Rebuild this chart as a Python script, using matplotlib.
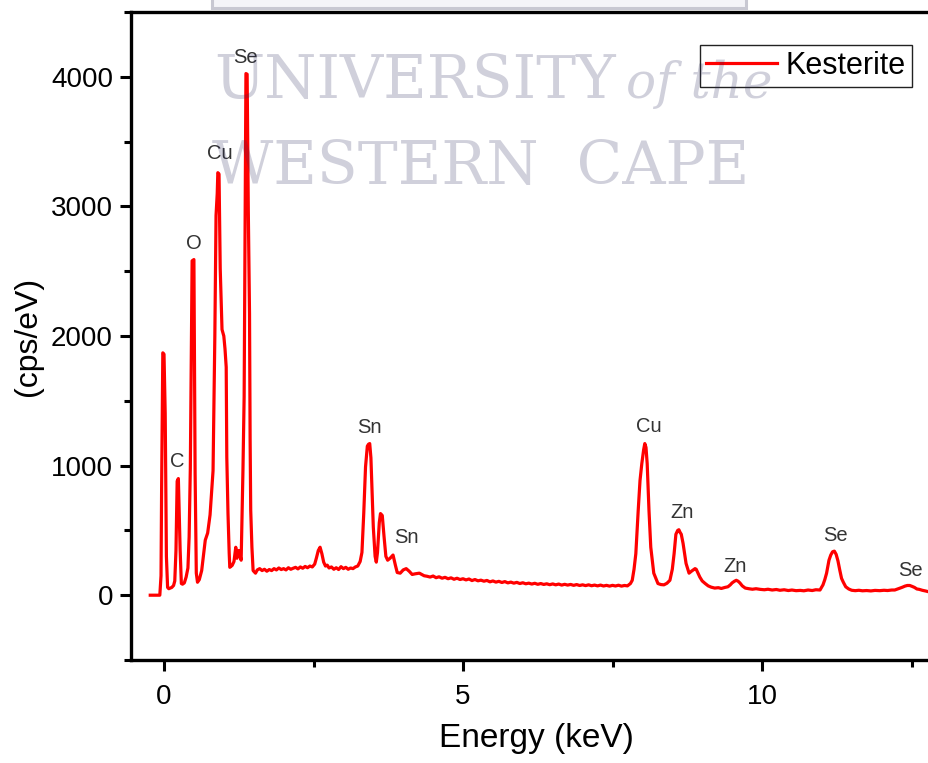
import matplotlib
matplotlib.use("Agg")
import matplotlib.pyplot as plt
from matplotlib.patches import Rectangle
from matplotlib.ticker import MultipleLocator

plt.rcParams['font.family'] = ['Liberation Sans', 'DejaVu Sans']

# EDS spectrum: energy (keV) and intensity (cps/eV)
energy = [
    -0.23, -0.12, -0.07, -0.05, -0.04, -0.02, 0.00, 0.02, 0.04, 0.06,
    0.08, 0.13, 0.16, 0.18, 0.20, 0.22, 0.24, 0.27, 0.29, 0.31,
    0.34, 0.37, 0.40, 0.42, 0.44, 0.47, 0.50, 0.52, 0.54, 0.56,
    0.59, 0.63, 0.69, 0.73, 0.77, 0.82, 0.85, 0.87, 0.89, 0.90,
    0.92, 0.94, 0.97, 1.00, 1.02, 1.04, 1.05, 1.07, 1.09, 1.10,
    1.14, 1.17, 1.20, 1.22, 1.25, 1.29, 1.30, 1.32, 1.34, 1.355,
    1.37, 1.39, 1.41, 1.43, 1.44, 1.45, 1.47, 1.49, 1.53, 1.56,
    1.60, 1.64, 1.68, 1.72, 1.76, 1.80, 1.84, 1.88, 1.92, 1.96,
    2.00, 2.04, 2.08, 2.12, 2.16, 2.20, 2.24, 2.28, 2.32, 2.36,
    2.40, 2.44, 2.48, 2.52, 2.55, 2.58, 2.61, 2.64, 2.67, 2.70,
    2.73, 2.76, 2.80, 2.84, 2.88, 2.92, 2.96, 3.00, 3.04, 3.08,
    3.12, 3.16, 3.20, 3.24, 3.28, 3.31, 3.34, 3.37, 3.40, 3.42,
    3.44, 3.46, 3.48, 3.50, 3.53, 3.55, 3.57, 3.60, 3.62, 3.65,
    3.68, 3.71, 3.74, 3.78, 3.83, 3.87, 3.90, 3.95, 4.00, 4.05,
    4.10, 4.15, 4.20, 4.27, 4.35, 4.40, 4.45, 4.50, 4.55, 4.60,
    4.65, 4.70, 4.75, 4.80, 4.85, 4.90, 4.95, 5.00, 5.05, 5.10,
    5.15, 5.20, 5.25, 5.30, 5.35, 5.40, 5.45, 5.50, 5.55, 5.60,
    5.65, 5.70, 5.75, 5.80, 5.85, 5.90, 5.95, 6.00, 6.05, 6.10,
    6.15, 6.20, 6.25, 6.30, 6.35, 6.40, 6.45, 6.50, 6.55, 6.60,
    6.65, 6.70, 6.75, 6.80, 6.85, 6.90, 6.95, 7.00, 7.05, 7.10,
    7.15, 7.20, 7.25, 7.30, 7.35, 7.40, 7.45, 7.50, 7.55, 7.60,
    7.65, 7.70, 7.75, 7.80, 7.83, 7.86, 7.89, 7.93, 7.96, 7.99,
    8.02, 8.04, 8.06, 8.08, 8.11, 8.14, 8.19, 8.26, 8.31, 8.36,
    8.41, 8.46, 8.50, 8.53, 8.56, 8.59, 8.61, 8.63, 8.65, 8.68,
    8.73, 8.78, 8.82, 8.85, 8.88, 8.90, 8.93, 8.96, 9.00, 9.05,
    9.10, 9.15, 9.21, 9.27, 9.32, 9.38, 9.43, 9.47, 9.50, 9.54,
    9.57, 9.60, 9.63, 9.67, 9.72, 9.78, 9.84, 9.90, 9.97, 10.04,
    10.10, 10.17, 10.24, 10.30, 10.37, 10.44, 10.50, 10.57, 10.64, 10.70,
    10.77, 10.84, 10.90, 10.97, 11.02, 11.05, 11.08, 11.12, 11.15, 11.18,
    11.21, 11.24, 11.27, 11.30, 11.33, 11.36, 11.40, 11.45, 11.50, 11.56,
    11.62, 11.68, 11.75, 11.82, 11.89, 11.97, 12.04, 12.10, 12.17, 12.22,
    12.27, 12.31, 12.35, 12.39, 12.43, 12.47, 12.51, 12.55, 12.59, 12.63,
    12.68, 12.74, 12.80, 12.87, 12.94, 13.00,
]
counts = [
    0, 0, 0, 150, 830, 1870, 1860, 1400, 300, 60,
    50, 60, 75, 110, 345, 880, 900, 345, 90, 85,
    95, 140, 210, 450, 980, 2580, 2590, 940, 170, 100,
    120, 190, 425, 480, 620, 960, 2000, 2930, 3100, 3260,
    3250, 2520, 2050, 2000, 1900, 1760, 1065, 630, 325, 215,
    230, 260, 370, 285, 345, 270, 500, 960, 1530, 2720,
    4025, 4020, 2950, 2170, 1200, 655, 370, 190, 170, 195,
    205, 190, 200, 185, 198, 190, 205, 195, 210, 198,
    205, 195, 212, 200, 208, 215, 203, 218, 208, 222,
    212, 225, 218, 240, 290, 345, 370, 320, 255, 225,
    232, 210, 218, 200, 212, 198, 220, 205, 215, 200,
    210, 205, 218, 225, 260, 330, 630, 990, 1150, 1165,
    1170, 1060, 780, 525, 300, 255, 330, 560, 630, 615,
    450, 300, 270, 285, 310, 230, 175, 170, 195, 205,
    185, 160, 165, 170, 150, 146, 140, 148, 135, 142,
    131, 138, 127, 134, 123, 131, 121, 127, 118, 125,
    113, 121, 111, 116, 108, 114, 103, 110, 101, 107,
    98, 105, 95, 101, 93, 99, 90, 96, 88, 93,
    86, 92, 84, 90, 83, 88, 81, 87, 80, 86,
    78, 84, 78, 83, 76, 82, 75, 80, 74, 80,
    73, 78, 72, 78, 71, 76, 70, 76, 71, 77,
    70, 75, 72, 90, 115, 200, 320, 655, 885, 1015,
    1120, 1170, 1140, 1015, 655, 370, 170, 90, 82, 80,
    92, 115, 200, 320, 470, 500, 505, 485, 470, 400,
    245, 170, 185, 195, 205, 200, 170, 140, 110, 90,
    72, 62, 55, 58, 52, 60, 65, 80, 95, 108,
    115, 108, 95, 72, 55, 50, 46, 50, 45, 42,
    46, 40, 44, 38, 42, 36, 40, 35, 37, 34,
    40, 36, 42, 40, 80, 120, 170, 270, 310, 335,
    340, 315, 265, 195, 130, 100, 65, 48, 38, 35,
    38, 34, 36, 33, 37, 35, 38, 36, 40, 40,
    48, 55, 62, 70, 75, 75, 68, 60, 48, 45,
    38, 32, 25, 26, 24, 24,
]

# peak labels: element, energy position, height of label
peak_names = ["Se", "Cu", "O", "C", "Sn", "Sn", "Cu", "Zn", "Zn", "Se", "Se"]
peak_x = [1.37, 0.94, 0.50, 0.22, 3.44, 4.05, 8.11, 8.66, 9.55, 11.22, 12.49]
peak_y = [4150, 3410, 2715, 1035, 1295, 445, 1300, 640, 225, 460, 190]

W, H = 929, 763
fig = plt.figure(figsize=(W / 100, H / 100), dpi=100)

# axes runs a little past the right edge of the picture (cropped original)
x_left, x_right = -0.552, 13.0
px_left, px_right = 131, 164 + 13.0 * 59.8
ax = fig.add_axes([px_left / W, 103 / H, (px_right - px_left) / W, (660 - 12) / H])

ax.plot(energy, counts, color='#ff0000', lw=2.3, label='Kesterite', zorder=3)

for name, xx, yy in zip(peak_names, peak_x, peak_y):
    ax.text(xx, yy, name, ha='center', va='center', fontsize=14.5, color='#333333')

ax.set_xlim(x_left, x_right)
ax.set_ylim(-500, 4500)
ax.xaxis.set_major_locator(MultipleLocator(5))
ax.xaxis.set_minor_locator(MultipleLocator(2.5))
ax.yaxis.set_major_locator(MultipleLocator(1000))
ax.yaxis.set_minor_locator(MultipleLocator(500))
ax.tick_params(which='major', direction='out', length=8, width=2.2, labelsize=20, pad=5)
ax.tick_params(which='minor', direction='out', length=5, width=2.2)
ax.tick_params(axis='x', which='major', pad=9)
for s in ax.spines.values():
    s.set_linewidth(2.4)

ax.set_xlabel('Energy (keV)', fontsize=24, labelpad=10)
ax.set_ylabel('(cps/eV)', fontsize=23, labelpad=6)

leg = ax.legend(loc='upper right', bbox_to_anchor=(912 / W, 718 / H),
                bbox_transform=fig.transFigure, fontsize=22, frameon=True,
                fancybox=False, edgecolor='#222222', framealpha=1,
                handlelength=2.3, handletextpad=0.3, borderpad=0.2,
                borderaxespad=0)
leg.get_frame().set_linewidth(1.0)

# watermark from the source document
fig.patches.append(Rectangle((212 / W, 1 - 8 / H), (746 - 212) / W, 20 / H,
                             transform=fig.transFigure, facecolor='#f4f4f8',
                             edgecolor='#c8c8d2', lw=2.2, zorder=0))
wm = dict(color=(0.16, 0.16, 0.36), alpha=0.22, zorder=10, va='baseline')
fig.text(214 / W, 1 - 98 / H, 'UNIVERSITY', family='DejaVu Serif',
         fontsize=43, **wm)
fig.text(626 / W, 1 - 98 / H, 'of the', family='DejaVu Serif',
         style='italic', fontsize=36, **wm)
fig.text(212 / W, 1 - 184 / H, 'WESTERN  CAPE', family='DejaVu Serif',
         fontsize=43, **wm)

fig.savefig('out.png', dpi=100)
